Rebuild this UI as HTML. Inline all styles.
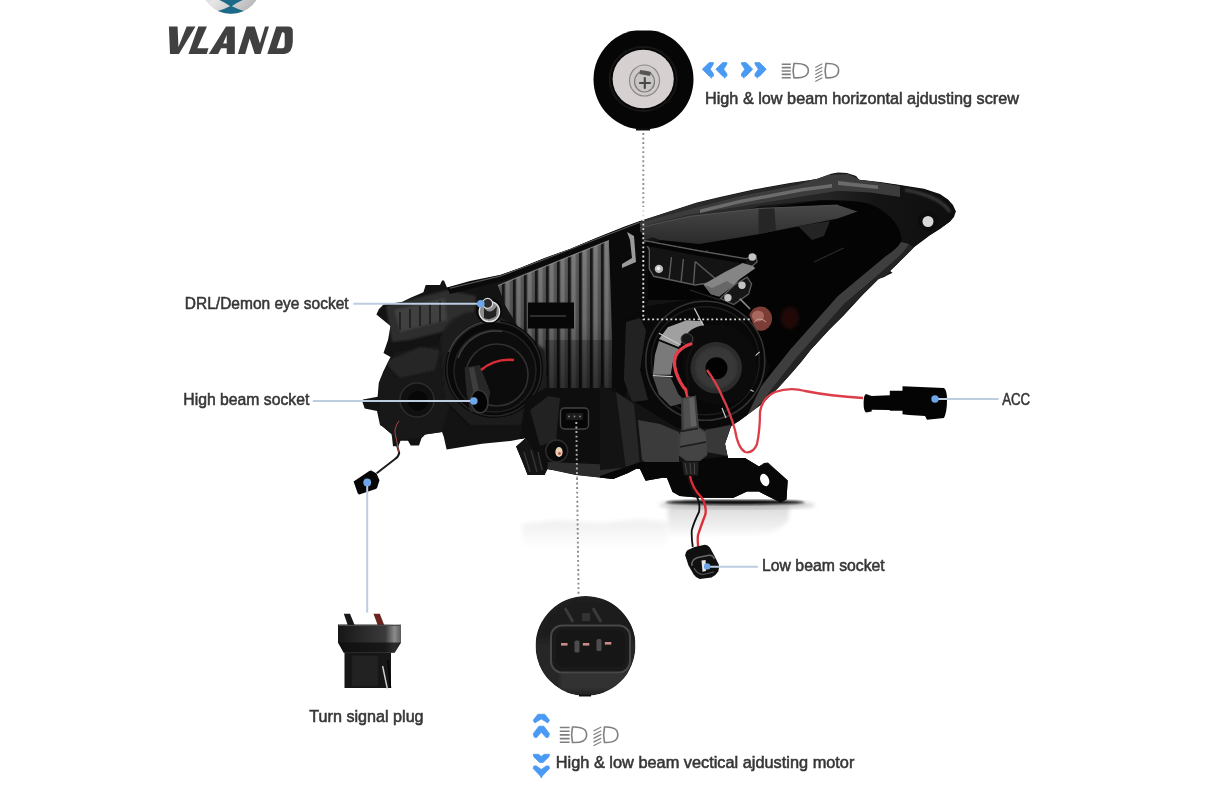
<!DOCTYPE html>
<html><head><meta charset="utf-8">
<style>
html,body{margin:0;padding:0;background:#fff;}
body{width:1214px;height:809px;overflow:hidden;position:relative;font-family:"Liberation Sans",sans-serif;}
svg{position:absolute;left:0;top:0;display:block;}
text{font-family:"Liberation Sans",sans-serif;font-size:16.2px;fill:#363636;stroke:#363636;stroke-width:0.55px;}
</style></head><body>
<svg width="1214" height="809" viewBox="0 0 1214 809">
<defs>
<linearGradient id="silver" x1="0" y1="0" x2="1" y2="1"><stop offset="0" stop-color="#9a9a9a"/><stop offset="0.5" stop-color="#e6e6e6"/><stop offset="1" stop-color="#a8a8a8"/></linearGradient>
<clipPath id="c1"><rect x="590" y="30.4" width="110" height="110"/></clipPath>
<clipPath id="c2"><rect x="530" y="596" width="110" height="110"/></clipPath><clipPath id="c2c"><circle cx="585.5" cy="646" r="50"/></clipPath><clipPath id="c1c"><circle cx="643.5" cy="79.5" r="50"/></clipPath>
<linearGradient id="refl" x1="0" y1="0" x2="0" y2="1"><stop offset="0" stop-color="#d9d9d9"/><stop offset="0.5" stop-color="#efefef"/><stop offset="1" stop-color="#ffffff"/></linearGradient>
<linearGradient id="refl2" x1="0" y1="0" x2="0" y2="1"><stop offset="0" stop-color="#efefef"/><stop offset="1" stop-color="#ffffff"/></linearGradient><linearGradient id="refl3" x1="0" y1="0" x2="0" y2="1"><stop offset="0" stop-color="#dadada"/><stop offset="1" stop-color="#fbfbfb"/></linearGradient><linearGradient id="capg" x1="0" y1="0" x2="1" y2="0"><stop offset="0" stop-color="#161616"/><stop offset="0.45" stop-color="#2c2c2c"/><stop offset="0.75" stop-color="#3a3a3a"/><stop offset="0.9" stop-color="#8c8c8c"/><stop offset="1" stop-color="#5a5a5a"/></linearGradient><linearGradient id="barg" x1="0" y1="205" x2="0" y2="244" gradientUnits="userSpaceOnUse"><stop offset="0" stop-color="#484848"/><stop offset="1" stop-color="#2a2a2a"/></linearGradient><filter id="b2"><feGaussianBlur stdDeviation="2"/></filter>
<filter id="b1"><feGaussianBlur stdDeviation="1"/></filter>
<filter id="b05"><feGaussianBlur stdDeviation="0.5"/></filter>
<filter id="b4"><feGaussianBlur stdDeviation="4"/></filter>
</defs>
<!--LOGO-->
<g id="logo">
<circle cx="231" cy="-16" r="30" fill="url(#silver)"/>
<path d="M215 -2 Q226 3 231 6.8 Q236 3 247 -2 L247 -20 L215 -20 Z" fill="#1a6a88"/>
<path d="M231 5.8 Q237 9 243.8 11 Q231 16.5 217.8 11 Q225 9 231 5.8 Z" fill="#1a6a88"/>
<g transform="translate(150,0) scale(0.14)" fill="#404040">
<path d="M135 190 L197 190 L203 335 L262 190 L325 190 L207 385 L143 385 Z"/>
<path d="M345 190 L407 190 L338 345 L418 345 L405 385 L275 385 Z"/>
<path d="M420 385 L543 190 L606 190 L606 385 L548 385 L548 345 L508 345 L486 385 Z M548 310 L548 250 L522 310 Z"/>
<path d="M628 385 L690 190 L748 190 L785 310 L822 190 L850 190 L850 190 L790 385 L748 385 L712 275 L680 385 Z"/>
<path d="M838 385 L902 190 L985 190 Q1022 190 1020 225 L1020 300 Q1015 385 960 385 Z M905 345 L945 345 Q962 345 962 320 L962 245 Q962 230 948 230 L943 230 Z"/>
</g>
</g>
<!--HEADLIGHT-->
<defs>
<clipPath id="hl"><polygon points="376.4,314.6 379,309 383.5,304.5 402,302 410,298 423.4,292.3 425.7,285 440,285 442,280.6 444,280.6 447,287.6 470,281 500.8,274.7 520,268 544.6,258 570,249 596,238 624,226.8 640,221 680,208 697,202.6 720,197 753.7,189.5 790,183 810.5,180 817.4,178.8 831.2,173.8 838,172.5 847,172.9 856,176 859,179.8 880,182 898.5,184.7 924,188.8 930,190.7 940,194 948,199.6 953,205 955.8,211.4 954,217 950,221.5 940,229 930,235.2 914.3,247 896.5,264.8 890,271 892.5,272.8 884,277 878.7,278.7 862.9,294.5 843,316.3 829,330 810.5,350 802,361 793.5,371 779,387 762,404 739,421 731,426.6 725,443.7 728,458 745,458 759,466.4 764,463 768,462.5 787.7,480.6 786.5,499.5 780.6,502.5 758.9,491.6 747,491.6 733,498 700,497.7 679.8,496 672.6,492 667,478 662.6,477.8 645.6,480.7 640,469 635.6,469 628,473 613,479 576,475 547.5,469 544.7,475 527.6,475 522,460.8 516,446.5 526,438 510.5,440.9 482,443.7 465,446.5 446.6,449.4 443.7,436.6 442,432 425,434.5 421.6,438 419,445.6 410.7,445.6 408,440.8 400.5,440.8 398.5,446.3 393,446.3 391.7,434.3 382.6,426.6 380,425 377,411 364.7,408.5 362.3,401.5 363,399.6 377.6,396.8 378.8,382.7 383.5,371 390.5,357 383.5,353 388,340 390.5,326"/></clipPath>
<pattern id="ribs" x="503" y="0" width="11" height="10" patternUnits="userSpaceOnUse"><rect width="11" height="10" fill="#1c1c1c"/><rect x="1.6" width="8.4" height="10" fill="#5e5e5e"/><rect x="2.6" width="4.2" height="10" fill="#8e8e8e"/><rect x="6.8" width="2" height="10" fill="#6c6c6c"/></pattern>
<linearGradient id="ribshade" x1="0" y1="0" x2="0" y2="1"><stop offset="0" stop-color="#000" stop-opacity="0.12"/><stop offset="0.55" stop-color="#000" stop-opacity="0.25"/><stop offset="1" stop-color="#000" stop-opacity="0.55"/></linearGradient>
<linearGradient id="rimg" x1="640" y1="0" x2="956" y2="0" gradientUnits="userSpaceOnUse"><stop offset="0" stop-color="#2e2e2e"/><stop offset="0.6" stop-color="#242424"/><stop offset="0.75" stop-color="#141414"/><stop offset="1" stop-color="#0e0e0e"/></linearGradient><radialGradient id="fan" cx="0.4" cy="0.45" r="0.6"><stop offset="0" stop-color="#6a6a6a"/><stop offset="1" stop-color="#303030"/></radialGradient>
</defs>
<g id="reflection">
<path d="M522 524 L560 520 L600 523 L640 519 L668 522 L668 548 L522 548 Z" fill="url(#refl2)" filter="url(#b2)"/>
<path d="M668 506 L790 506 L788 522 L770 534 L668 536 Z" fill="url(#refl3)" filter="url(#b2)"/>
<ellipse cx="737" cy="505" rx="78" ry="4" fill="#777" opacity="0.45" filter="url(#b2)"/>
<ellipse cx="735" cy="502.3" rx="70" ry="2.4" fill="#0c0c0c" filter="url(#b1)"/>
</g>
<g id="headlight">
<polygon points="376.4,314.6 379,309 383.5,304.5 402,302 410,298 423.4,292.3 425.7,285 440,285 442,280.6 444,280.6 447,287.6 470,281 500.8,274.7 520,268 544.6,258 570,249 596,238 624,226.8 640,221 680,208 697,202.6 720,197 753.7,189.5 790,183 810.5,180 817.4,178.8 831.2,173.8 838,172.5 847,172.9 856,176 859,179.8 880,182 898.5,184.7 924,188.8 930,190.7 940,194 948,199.6 953,205 955.8,211.4 954,217 950,221.5 940,229 930,235.2 914.3,247 896.5,264.8 890,271 892.5,272.8 884,277 878.7,278.7 862.9,294.5 843,316.3 829,330 810.5,350 802,361 793.5,371 779,387 762,404 739,421 731,426.6 725,443.7 728,458 745,458 759,466.4 764,463 768,462.5 787.7,480.6 786.5,499.5 780.6,502.5 758.9,491.6 747,491.6 733,498 700,497.7 679.8,496 672.6,492 667,478 662.6,477.8 645.6,480.7 640,469 635.6,469 628,473 613,479 576,475 547.5,469 544.7,475 527.6,475 522,460.8 516,446.5 526,438 510.5,440.9 482,443.7 465,446.5 446.6,449.4 443.7,436.6 442,432 425,434.5 421.6,438 419,445.6 410.7,445.6 408,440.8 400.5,440.8 398.5,446.3 393,446.3 391.7,434.3 382.6,426.6 380,425 377,411 364.7,408.5 362.3,401.5 363,399.6 377.6,396.8 378.8,382.7 383.5,371 390.5,357 383.5,353 388,340 390.5,326" fill="#131313"/>
<g clip-path="url(#hl)">
<!-- left textured area -->
<path d="M386 306 L447 290 L476 296 L474 322 L450 330 L410 340 L392 342 Z" fill="#2e2e2e" filter="url(#b1)"/>
<path d="M394 310 L445 298 L447 320 L400 332 Z" fill="#414141" filter="url(#b1)"/>
<path d="M400 312 L400 330 M410 309 L410 328 M420 306 L420 326 M430 304 L430 324 M440 301 L440 322" stroke="#242424" stroke-width="2" filter="url(#b05)"/>
<path d="M380 380 L395 352 L440 345 L452 400 L440 436 L395 440 L380 425 Z" fill="#181818"/>
<path d="M384 362 L420 347 L440 350 L435 370 L400 378 Z" fill="#262626" filter="url(#b1)"/>
<!-- ribbed panel -->
<polygon points="498,285.5 609,240.5 613,300 616,388 546,388 520,330 505,305" fill="url(#ribs)"/>
<polygon points="498,285.5 609,240.5 613,300 616,388 546,388 520,330 505,305" fill="url(#ribshade)"/>
<path d="M498 285.5 L609 240.5" stroke="#a0a0a0" stroke-width="1.2" opacity="0.7"/>
<path d="M545 340 L612 340 L614 388 L546 388 Z" fill="#000" opacity="0.25"/>
<rect x="528" y="302.5" width="46" height="26" fill="#070707"/>
<path d="M530 316 L566 316" stroke="#3c3c3c" stroke-width="1.5"/>
<!-- top rim -->
<path d="M447 287.6 L500.8 274.7 L544.6 258 L596 238 L640 221 L640 227 L600 243 L548 264 L502 281 L450 294 Z" fill="#0a0a0a"/>
<path d="M450 288.2 L500.8 275.9 L544.6 259.2 L596 239.2 L640 222.2" stroke="#6a6a6a" stroke-width="1.1" fill="none" opacity="0.8"/>
<!-- separator dark column -->
<path d="M609 240 L640 226 L648 250 L648 300 L640 330 L625 400 L614 400 Z" fill="#0a0a0a"/>
<path d="M627 232 L634 236 L636 262 L622 268 L622 264 L632 258 L630 240 Z" fill="#9a9a9a"/>
<!-- upper right band -->
<path d="M640 221 L697 203 L754 190 L817 179 L838 173 L856 176 L860 180 L899 185 L930 191 L948 200 L956 211 L950 222 L930 235 L914 247 L896 265 L863 295 L829 330 L802 361 L779 387 L762 404 L750 400 L790 350 L840 294 L886 255 L902 239 L894 219 L871 203 L820 200 L760 206 L700 222 L645 240 Z" fill="url(#rimg)"/>
<path d="M640 222.5 L685.5 210.5 L739 196.6 L798 184.8 L828 174.9 L848 173.9 L858 178.8 L880 182.8 L900 186 L900 197 L870 192.5 L837.7 190.7 L758.6 203.5 L689.4 214.4 L640 226.5 Z" fill="#3c3c3c"/>
<path d="M700 209.5 L739 200 L802 188 L832 184 L832 187.5 L802 191.5 L739 203.5 L700 213 Z" fill="#6c6c6c" filter="url(#b05)"/>
<path d="M838 181 L878 185.5 L878 189 L838 185 Z" fill="#6a6a6a" filter="url(#b05)"/>
<!-- black opening -->
<path d="M648 245 L700 226 L760 209 L820 200.5 Q850 199.5 866 203 Q886 209 896 224 Q903 236 901 242 Q897 249 886 256 L862 276 L838 296 L790 350 L752 398 L700 300 L648 300 Z" fill="#040404"/>
<!-- inner bar -->
<path d="M640 227.5 L689.4 216.4 L758.6 208.5 L837.7 205 L857.5 211.5 L837.7 218.4 L778.4 230.2 L758.6 234.2 L699.3 244.1 L659.8 240.1 L640 232 Z" fill="url(#barg)"/>
<path d="M758.6 208.5 L774.4 207.8 L776 230.6 L758.6 234.2 Z" fill="#262626"/>
<path d="M640 227.5 L689.4 216.4 L758.6 208.5 L837.7 205" stroke="#5a5a5a" stroke-width="1" fill="none" opacity="0.8"/>
<path d="M798 226 L830 221 L824 236 L812 240 Z" fill="#242424"/>
<path d="M814 262 L843.6 248 M706 250 L716 262 M690 290 L720 300" stroke="#2a2a2a" stroke-width="1.2" fill="none"/>
<!-- right rim lower (grey strip) -->
<path d="M901 242 Q897 249 886 256 L862 276 L838 296 L790 350 L752 398 L738 414 L744 420 L760 404 L797 357 L845 303 L869 283 L893 262 Q905 252 909 244 Z" fill="#3e3e3e"/>
<path d="M909 244 Q905 252 893 262 L869 283 L845 303 L797 357 L760 404 L744 420 L748 424 L764 408 L801 361 L849 307 L873 287 L897 266 Q909 256 913 247 Z" fill="#242424"/>
<path d="M905 190 Q940 196 950 212" stroke="#3a3a3a" stroke-width="3" fill="none" filter="url(#b1)"/>
<!-- screw right -->
<circle cx="928" cy="221" r="10" fill="#0c0c0c"/>
<circle cx="928" cy="221.5" r="5.5" fill="#d8d8d8"/>
<!-- bracket -->
<path d="M644.8 240.8 L700 251 L745.7 258.6 L756 255.6 L757 262 L750 268 L716 282 L695 285 L653.7 276.3 L649.3 268.9 L649.3 249.7 Z" fill="#141414" stroke="#5c5c5c" stroke-width="1.4"/>
<path d="M645 243.5 L700 254 L746 262" stroke="#050505" stroke-width="4" fill="none"/>
<path d="M671.5 257 L669 280 M683.4 259 L681 282.5 M695.2 261.5 L693.5 284.5 M695.2 261.5 L716 279.3" stroke="#5c5c5c" stroke-width="1.4" fill="none"/>
<path d="M733.8 285.2 L747.1 277.1 L751.6 283.8 L748.6 294.1 L733.8 304.5 L720.5 298.6 Z" fill="#161616" stroke="#5a5a5a" stroke-width="1.3"/>
<path d="M703.4 284.5 L724.9 271.9 L742.7 263 L753 266 L755.3 268.2 L739.7 279.3 L733.8 285.2 L719 296.4 L710.8 294.1 Z" fill="#858585"/>
<path d="M703.4 284.5 L710.8 294.1 L719 296.4 L733.8 285.2 L727 281 L712 288 Z" fill="#676767"/>
<circle cx="658.9" cy="268.9" r="4.2" fill="#bdbdbd"/><circle cx="658.4" cy="268.4" r="1.8" fill="#f2f2f2"/>
<circle cx="752.3" cy="257" r="3.8" fill="#c4c4c4"/>
<circle cx="742" cy="285.2" r="3.7" fill="#c4c4c4"/>
<circle cx="727.9" cy="297.8" r="3.7" fill="#c4c4c4"/>
<path d="M739.7 298.6 L750.1 309" stroke="#8a8a8a" stroke-width="1.6"/>
<!-- bulb -->
<ellipse cx="760.5" cy="318.6" rx="11.6" ry="12.2" fill="#7b3d36"/>
<ellipse cx="758" cy="316" rx="6" ry="5.5" fill="#a8685e" filter="url(#b05)"/>
<path d="M754 322 Q760 316 766 322" stroke="#c9a39c" stroke-width="1" fill="none"/>
<ellipse cx="790" cy="318" rx="9" ry="11" fill="#3a1010" opacity="0.6" filter="url(#b2)"/>
<!-- right cap housing -->
<path d="M625 320 L648 306 L700 298 L750 316 L770 368 L745 420 L700 432 L660 425 L630 400 Z" fill="#090909"/>
<path d="M626 322 L640 318 L646 330 L640 370 L648 400 L632 402 L624 380 Z" fill="#242424" filter="url(#b05)"/>
<circle cx="705.3" cy="360.8" r="59.5" fill="#080808" stroke="#333" stroke-width="1.6"/>
<circle cx="705.3" cy="360.8" r="54" fill="none" stroke="#1c1c1c" stroke-width="1.4"/>
<path d="M667.8 327.2 L686.5 320.3 L702.3 321.3 L705.3 329.2 L686.5 335.1 L678.6 347 L658.9 339 Z" fill="#a0a0a0" filter="url(#b05)"/>
<path d="M658.9 341 L678.6 349 L672.7 362.8 L670.7 374.7 L652.9 374.7 L654.9 354.9 Z" fill="#7a7a7a" filter="url(#b05)"/>
<path d="M652.9 376.6 L670.7 377.6 L678.6 394.4 L686.5 402.3 L670.7 406.3 L658.9 394.4 Z" fill="#4c4c4c" filter="url(#b05)"/>
<path d="M658.9 333.2 L680.6 345 M694.4 308.4 L705.3 329.2 M652.9 375.7 L672.7 376.6 M751.8 358.9 L759.7 351.9 M745.8 387.5 L753.7 391.5 M722 408 L726 418" stroke="#c8c8c8" stroke-width="1.2" fill="none"/>
<!-- grommet -->
<path d="M684 338 Q692 324 712 325 Q730 322 742 334 Q756 340 756 362 Q760 384 744 396 Q730 408 712 404 Q696 402 690 390 Q680 372 684 338 Z" fill="#0b0b0b"/>
<circle cx="716.2" cy="367.7" r="25.7" fill="#2c2c2c"/>
<circle cx="716.2" cy="367.7" r="21" fill="#393939" filter="url(#b1)"/>
<circle cx="716.5" cy="368.3" r="11" fill="#020202"/>
<ellipse cx="687" cy="339" rx="6" ry="5.5" fill="#151515" stroke="#444" stroke-width="1"/>
<!-- left big cap -->
<path d="M440 340 Q446 318 470 312 L500 316 L545 350 L548 400 L520 425 L470 425 L445 400 Z" fill="#1b1b1b" filter="url(#b1)"/>
<circle cx="494" cy="369" r="49" fill="#090909"/>
<path d="M449 352 A48 48 0 0 1 500 321.5" stroke="#4a4a4a" stroke-width="1.8" fill="none" filter="url(#b05)"/>
<circle cx="494" cy="369" r="47" fill="none" stroke="#262626" stroke-width="1.5"/>
<circle cx="495" cy="371" r="41" fill="#0d0d0d" stroke="#222" stroke-width="1.5"/>
<path d="M458 358 A40 40 0 0 1 502 331.5" stroke="#3c3c3c" stroke-width="1.6" fill="none" filter="url(#b05)"/>
<circle cx="497" cy="375" r="31" fill="#0c0c0c" stroke="#303030" stroke-width="1.6"/>
<path d="M464.5 367.4 L479.7 365 L490.3 392 L486.8 410.8 L470.3 412 L466.8 394.4 Z" fill="#272727"/>
<path d="M469 368 L474 367 L480 395 L474 396 Z" fill="#3e3e3e" filter="url(#b05)"/>
<ellipse cx="479.5" cy="401.5" rx="8.4" ry="11.4" fill="#040404" stroke="#3a3a3a" stroke-width="1.5" transform="rotate(-10 479.5 401.5)"/>
<path d="M481 370 Q495 358 514 360" stroke="#d82b36" stroke-width="2.4" fill="none"/>
<!-- DRL socket -->
<circle cx="489" cy="311" r="13" fill="#080808"/>
<circle cx="489.4" cy="311.5" r="10.2" fill="#8c8c8c" stroke="#e4e4e4" stroke-width="1.3"/>
<path d="M484 308 Q490 316 497 306 L496 316 Q490 321 484 318 Z" fill="#222"/>
<circle cx="487.6" cy="303.4" r="5" fill="#2a2a2a" stroke="#dcdcdc" stroke-width="1.2"/>
<!-- lower-left small round -->
<circle cx="417" cy="400" r="17" fill="#101010" stroke="#2c2c2c" stroke-width="1.5"/>
<circle cx="418" cy="401" r="10" fill="#070707"/>
<!-- motor block -->
<path d="M525 400 L545 388 L615 388 L640 420 L648 470 L527 470 L520 440 Z" fill="#0e0e0e"/>
<path d="M530 410 L548 396 L560 398 L556 440 L540 446 Z" fill="#202020" filter="url(#b05)"/>
<rect x="560.5" y="408" width="28" height="21" rx="4" fill="#060606" stroke="#444" stroke-width="1.4"/>
<rect x="566" y="413" width="17" height="7" rx="1" fill="#1c1c1c"/><circle cx="569" cy="416.5" r="0.9" fill="#888"/><circle cx="574.5" cy="416.5" r="0.9" fill="#888"/><circle cx="580" cy="416.5" r="0.9" fill="#888"/>
<circle cx="556.7" cy="451" r="11" fill="#0a0a0a" stroke="#2d2d2d" stroke-width="1.4"/>
<ellipse cx="559" cy="452" rx="3.6" ry="5" fill="#ecd2b0"/>
<circle cx="559.5" cy="453.5" r="1.4" fill="#c0504a"/>
<path d="M548 462 L640 466 L636 478 L613 479 L576 475 L547.5 469 Z" fill="#2c2c2c"/>
<path d="M516 446.5 L526 438 L545 470 L544.7 475 L527.6 475 Z" fill="#141414"/>
<path d="M524 452 L530 472 M531 450 L537 472 M538 452 L542 470" stroke="#333" stroke-width="1.5"/>
<!-- right lower body -->
<path d="M600 385 L640 405 L680 430 L731 427 L725 444 L728 458 L700 470 L660 474 L640 466 L600 470 Z" fill="#131313"/>
<path d="M616 392 L634 404 L640 466 L626 470 Z" fill="#262626" filter="url(#b05)"/>
<path d="M638 420 L660 424 L679 432 L679 462 L650 466 L642 460 Z" fill="#3b3b3b" filter="url(#b05)"/>
<path d="M705 430 L731 425 L726 446 L728 456 L706 452 Z" fill="#383838" filter="url(#b05)"/>
<path d="M640 462 L680 462 L728 456 L746.6 457.4 L761.4 465.7 L766.4 463.2 L790 480.5 L790 505 L600 505 L600 476 Z" fill="#070707"/>
</g>
<!-- foot bracket -->
<ellipse cx="764.7" cy="480" rx="4.3" ry="6.4" fill="#fff" transform="rotate(-22 764.7 480)"/>
</g>
<g id="parts">
<!-- red wires on right cap -->
<path d="M691 344 Q684 346 678 352 Q672 360 676 372 Q680 384 686 390 L688 398" stroke="#e63c48" stroke-width="3.3" fill="none" stroke-linecap="round"/>
<path d="M694 346 Q686 356 687 372 L689 396" stroke="#111" stroke-width="2" fill="none"/>
<path d="M707 370 Q716 382 722 396 Q730 412 735 430 Q738 448 745 452 Q753 454 757 444 Q760 430 760 412 Q762 398 775 392 Q790 387 805 391 Q830 396 863 398" stroke="#dc3e49" stroke-width="2.3" fill="none"/>
<!-- inline connector -->
<path d="M681 398 L696 395.5 L699 427 L706 432 L707.5 455 L700 461 L686 461 L678 455 L677.5 437 L681.5 430 Z" fill="#3f3f3f"/>
<path d="M683 399 L694 397 L696.5 426 L684 429 Z" fill="#505050"/>
<path d="M689 398 L694 397 L696.5 426 L691 427 Z" fill="#626262"/>
<path d="M681 431 L698 428 L705 433 L706.5 441 L680 446 Z" fill="#4a4a4a"/>
<path d="M680 447 L706.5 442 L707 454 L700 460 L687 460 L680 455 Z" fill="#444"/>
<path d="M681 431.5 L698 428.5 M680 447 L706 442" stroke="#1c1c1c" stroke-width="1.6" fill="none"/>
<path d="M682 461.5 L698.8 461.5 L698 475.5 L684 475.5 Z" fill="#1e1e1e"/>
<path d="M685 463 L687 474 M690 463 L691 474 M694.5 463 L694.5 474" stroke="#4a4a4a" stroke-width="0.9"/>
<!-- wires down to low beam socket -->
<path d="M688 476 Q690 488 697 497 Q700.5 503 699 512 Q694 522 691.8 530 Q691.3 538 692.8 547" stroke="#111" stroke-width="1.8" fill="none"/>
<path d="M690 476 Q692 488 702 498 Q706.5 505 705.5 514 Q701 526 698 535 Q697.3 540 698.2 547" stroke="#dd2a34" stroke-width="2.3" fill="none"/>
<!-- low beam socket -->
<path d="M685.2 555.2 Q685.5 551.5 687.8 550 L694.5 547 L704.8 544.8 Q708 545 710 547.8 L714.5 556 L718.9 564.8 Q719.5 568.5 718.2 571.5 Q716 575.5 711.5 577.4 L699.7 578.9 Q696 578 693.7 574.5 L688.5 565.6 Z" fill="#101010"/>
<path d="M692 566 Q690.5 560 698 557.5 L709 555.2 Q713 555 714.5 559" stroke="#6a6a6a" stroke-width="1.4" fill="none"/>
<path d="M694 568 Q697 574 703 574.5 L714 572" stroke="#555" stroke-width="1.2" fill="none"/>
<path d="M701.5 560.5 L705.6 560 L706 571 L702.5 571.8 Z" fill="#e8e8e8"/>
<!-- ACC connector -->
<path d="M866 394 Q863.6 395 863.6 403 Q863.6 411 866 412.6 L871.7 411.5 L871.7 409.8 L889.8 410 L889.8 410.7 L902.5 410.7 L902.5 414.3 L909 415 L925 416 L927 419.8 L944 418 Q947 412 947 400 Q947 390 944 388 L902.5 386.3 L902.5 390.8 L889.8 390.8 L889.8 395.3 L871.7 396 Z" fill="#040404"/>
<!-- small plug and wire -->
<path d="M398.5 420 Q393 428 394.4 434 Q396 440 397 445 L399.2 453 Q398.5 457 394.4 459.5 L376.7 473.2" stroke="#1c1c1c" stroke-width="2" fill="none"/>
<path d="M399 421 Q394 428 395.2 434 Q396.8 440 397.6 446 L398.6 452" stroke="#a8443c" stroke-width="1" fill="none"/>
<path d="M353.6 481.6 L369.3 470.9 Q371 470 373 471.5 L376.5 473.5 L379.5 480.3 L377.2 487.4 Q376.5 488.8 375 489.3 L360 494.3 Q358.4 494.8 357.6 493 Z" fill="#060606"/>
<!-- turn signal plug -->
<path d="M343.8 613.7 L350 613.7 L355 626 L348 626 Z" fill="#181818"/>
<path d="M373.5 613.7 L379.8 613.7 L384.6 626 L378 626 Z" fill="#6a261e"/>
<path d="M338 624.5 L401 624.5 L401 642.5 L394.7 652.8 L343.8 652.8 L338 642.5 Z" fill="url(#capg)"/>
<path d="M338 642.5 L401 642.5 L394.7 652.8 L343.8 652.8 Z" fill="#0d0d0d" opacity="0.75"/>
<path d="M339 625.5 L400 625.5" stroke="#4a4a4a" stroke-width="1.2"/>
<path d="M344.5 652.8 L391 652.8 L391 688 L344.5 688 Z" fill="#171717"/>
<path d="M352 656 L378 656 L378 686 L352 686 Z" fill="#242424" filter="url(#b1)"/>
<path d="M382.6 666 L387.4 689" stroke="#d4d4d4" stroke-width="1.4"/>
<path d="M388 660 L390.5 688" stroke="#050505" stroke-width="1.5"/>
</g>
<g id="innerdots">
<path d="M643.3 210 L643.3 319.4 L752 319.4" stroke="#dcdcdc" stroke-width="1.9" stroke-dasharray="1.9 2.65" fill="none"/>
<path d="M576.3 422 L577 478" stroke="#b0b0b0" stroke-width="1.9" stroke-dasharray="1.9 2.65" fill="none"/>
</g>

<!--CALLOUTS-->
<g id="callouts">
<!-- screw circle -->
<g clip-path="url(#c1)">
<circle cx="643.5" cy="79.5" r="50" fill="#060606"/>
<ellipse cx="643.2" cy="79" rx="33.5" ry="32" fill="none" stroke="#161616" stroke-width="2"/>
<ellipse cx="643.2" cy="79" rx="30.6" ry="29.3" fill="#d6d0d0"/>
<ellipse cx="644.5" cy="80.5" rx="15" ry="15.5" fill="#cfcaca" stroke="#8d8a8a" stroke-width="1.2"/>
<ellipse cx="644.5" cy="81.5" rx="10" ry="10.5" fill="#c9c5c5" stroke="#7d7a7a" stroke-width="1.2"/>
<path d="M640 70 L651 72 L650 76 L639.5 74 Z" fill="#555"/>
<path d="M644.8 78 L644.8 88 M640 83 L650 83" stroke="#4a4a4a" stroke-width="2.2" stroke-linecap="round"/>
</g>
<rect x="636" y="128" width="14" height="2.5" fill="#111" filter="url(#b05)"/>
<!-- connector circle -->
<g clip-path="url(#c2)"><g clip-path="url(#c2c)">
<circle cx="585.5" cy="646" r="50" fill="#262626"/>
<path d="M535 640 Q540 610 575 598 L640 598 L640 640 Z" fill="#1b1b1b" filter="url(#b2)"/>
<path d="M560 690 L560 672 L630 672 L632 690 Z" fill="#333" filter="url(#b1)"/>
<rect x="551" y="625.5" width="79" height="47" rx="11" fill="#1a1a1a" stroke="#474747" stroke-width="2"/>
<rect x="556" y="630" width="69" height="37" rx="8" fill="#161616"/>
<rect x="574.5" y="640.5" width="5" height="12" rx="1.5" fill="#4c4c4c"/>
<rect x="596.5" y="639" width="5" height="12" rx="1.5" fill="#4c4c4c"/>
<rect x="561" y="643" width="6.5" height="2.6" fill="#c98c86"/>
<rect x="582.8" y="643" width="6.5" height="2.6" fill="#c98c86"/>
<rect x="604.8" y="642" width="6.5" height="2.6" fill="#c98c86"/>
<path d="M565 608 L573 622 M593 608 L601 622" stroke="#3a3a3a" stroke-width="3"/>
<rect x="582" y="613" width="8" height="8" fill="#333"/>
</g></g>
<rect x="579" y="694.5" width="12" height="2" fill="#111" filter="url(#b05)"/>
<!-- dotted lines -->
<path d="M643.3 133 L643.3 207" stroke="#8e8e8e" stroke-width="1.9" stroke-dasharray="1.9 2.65" fill="none"/>
<path d="M577 478 L578.6 596" stroke="#888" stroke-width="1.9" stroke-dasharray="1.9 2.65" fill="none"/>
<!-- label lines -->
<g stroke="#bdcde0" stroke-width="1.9" fill="none">
<path d="M353.4 303.8 L478 303.8"/>
<path d="M312.8 401 L471 401"/>
<path d="M938 399 L998.6 399"/>
<path d="M709.4 566.8 L757.9 566.8"/>
<path d="M367.2 486 L367.2 612.6" stroke-width="2"/>
</g>
<!-- icons top -->
<g fill="#4a9af3" stroke="#4a9af3" stroke-width="0.8" stroke-linejoin="round">
<path d="M702.3 69.2 L709.2 62.6 L713.4 62.6 L713.4 64 L710.2 69.2 L713.4 73.8 L713.4 76.2 L712 76.6 L711.2 78.3 L710.4 76.6 L709.2 76.2 Z"/>
<path d="M702.3 69.2 L709.2 62.6 L713.4 62.6 L713.4 64 L710.2 69.2 L713.4 73.8 L713.4 76.2 L712 76.6 L711.2 78.3 L710.4 76.6 L709.2 76.2 Z" transform="translate(13.5,0)"/>
<path d="M741.5 62.6 L746.1 62.6 L752.7 69.2 L746.1 76.2 L744.6 76.6 L743.8 78.3 L743 76.6 L741.5 76.2 L741.5 73.8 L744.8 69.2 L741.5 64 Z"/>
<path d="M741.5 62.6 L746.1 62.6 L752.7 69.2 L746.1 76.2 L744.6 76.6 L743.8 78.3 L743 76.6 L741.5 76.2 L741.5 73.8 L744.8 69.2 L741.5 64 Z" transform="translate(13.5,0)"/>
</g>
<g stroke="#7f7f7f" stroke-width="1.6" fill="none">
<path d="M781.7 64.2 H790.8 M781.7 67.6 H790.8 M781.7 71 H790.8 M781.7 74.4 H790.8 M781.7 77.8 H790.8"/>
<path d="M794 63.5 Q792.3 70.5 794 77.8 Q808.3 78.5 808.3 70.6 Q808.3 62.8 794 63.5 Z"/>
<path d="M815.3 67.5 L822.3 63.7 M815.3 71 L822.3 67.2 M815.3 74.5 L822.3 70.7 M815.3 78 L822.3 74.2 M815.3 81.5 L822.3 77.7" stroke-width="1.2"/>
<path d="M826 63.5 Q824.3 70.5 826 77.8 Q838.6 78.5 838.6 70.6 Q838.6 62.8 826 63.5 Z"/>
</g>
<!-- icons bottom -->
<g fill="#4a9af3" stroke="#4a9af3" stroke-width="0.8" stroke-linejoin="round">
<path d="M537.9 714.3 L544.8 714.3 L549.5 720.3 L547.8 722.9 L541.3 718.9 L534.8 722.9 L533.2 720.3 Z"/>
<path d="M538.9 726.2 L543.8 726.2 L549.5 733.7 L548.3 737.2 L546 737.6 L541.3 732.2 L536.6 737.6 L534.3 737.2 L533.2 733.7 Z"/>
<path d="M533.2 754.3 L538.5 754.3 L541.3 756.5 L544.2 754.3 L549.5 754.3 L548.8 757 L543 762.5 L539.6 762.5 L533.9 757 Z"/>
<path d="M533.7 766.2 L536 765.8 L541.3 769.4 L546.6 765.8 L549 766.2 L549.5 768.5 L542.3 776 L541.3 778 L540.3 776 L533.2 768.5 Z"/>
</g>
<g stroke="#7f7f7f" stroke-width="1.6" fill="none">
<path d="M559.8 727.5 H569.6 M559.8 731.2 H569.6 M559.8 734.9 H569.6 M559.8 738.6 H569.6 M559.8 742.3 H569.6"/>
<path d="M572.5 727 Q570.8 734.5 572.5 742.5 Q586.6 743.2 586.6 734.8 Q586.6 726.3 572.5 727 Z"/>
<path d="M593.5 731 L601.3 727 M593.5 734.7 L601.3 730.7 M593.5 738.4 L601.3 734.4 M593.5 742.1 L601.3 738.1 M593.5 745.8 L601.3 741.8" stroke-width="1.2"/>
<path d="M604.5 727 Q602.8 734.5 604.5 742.5 Q617.8 743.2 617.8 734.8 Q617.8 726.3 604.5 727 Z"/>
</g>
<!-- text --><g id="txt" style="opacity:0.999">
<text x="705" y="104" textLength="314" lengthAdjust="spacingAndGlyphs">High &amp; low beam horizontal ajdusting screw</text>
<text x="184.8" y="309.1" textLength="163.8" lengthAdjust="spacingAndGlyphs">DRL/Demon eye socket</text>
<text x="183.3" y="405.2" textLength="126" lengthAdjust="spacingAndGlyphs">High beam socket</text>
<text x="1002.2" y="405" textLength="28" lengthAdjust="spacingAndGlyphs">ACC</text>
<text x="762.1" y="571.4" textLength="122.6" lengthAdjust="spacingAndGlyphs">Low beam socket</text>
<text x="309.3" y="722" textLength="114.3" lengthAdjust="spacingAndGlyphs">Turn signal plug</text>
<text x="555.8" y="768.4" textLength="298.6" lengthAdjust="spacingAndGlyphs">High &amp; low beam vectical ajdusting motor</text>
</g></g>
<!--DOTS-->
<g fill="#6ea6ea">
<circle cx="480.8" cy="303.8" r="3.8"/>
<circle cx="473.8" cy="401" r="3.8"/>
<circle cx="935" cy="399" r="3.7"/>
<circle cx="707.1" cy="566.4" r="3.2"/>
<circle cx="367.2" cy="482.4" r="3.9"/>
</g>

</svg>
</body></html>
